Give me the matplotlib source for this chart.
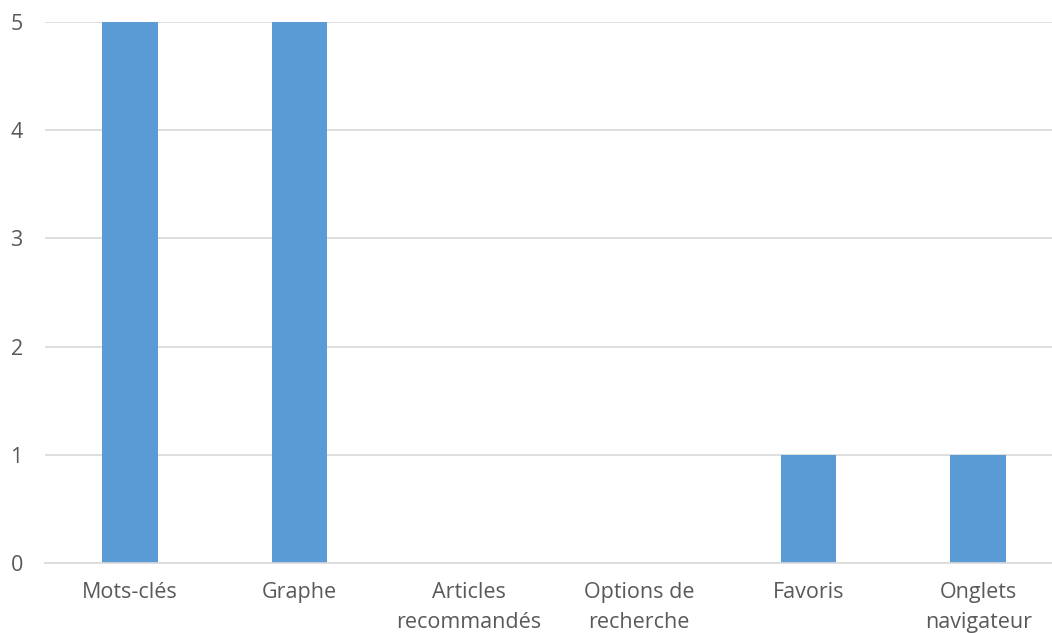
import matplotlib.pyplot as plt
import numpy as np

categories = ["Mots-clés", "Graphe", "Articles\nrecommandés", "Options de\nrecherche",
              "Favoris", "Onglets\nnavigateur"]
values = [5, 5, 0, 0, 1, 1]

plt.rcParams['font.family'] = ['Open Sans', 'DejaVu Sans']

fig = plt.figure(figsize=(10.52, 6.33), dpi=100)
ax = fig.add_axes([45 / 1052, 1 - 563 / 633, (1063 - 45) / 1052, (563 - 22) / 633])

x = np.arange(len(categories))
ax.bar(x, values, width=0.33, color='#5B9BD5', zorder=3)

ax.set_xlim(-0.5, len(categories) - 0.5)
ax.set_ylim(0, 5)
ax.set_yticks(range(6))
ax.set_xticks(x)
ax.set_xticklabels(categories, fontsize=15.5, color='#595959', linespacing=1.55)
ax.tick_params(axis='y', labelsize=15.5, labelcolor='#595959', length=0, pad=16)
ax.tick_params(axis='x', length=0, pad=14)

ax.grid(axis='y', color='#D9D9D9', linewidth=1.2, zorder=0)
for s in ['top', 'right', 'left']:
    ax.spines[s].set_visible(False)
ax.spines['bottom'].set_color('#D9D9D9')
ax.spines['bottom'].set_linewidth(1.2)
ax.spines['bottom'].set_zorder(4)

fig.savefig("out.png", dpi=100)
